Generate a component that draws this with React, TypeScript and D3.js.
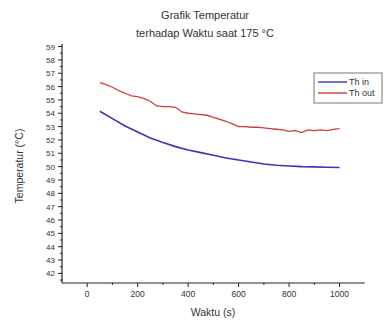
import React from "react";
import * as d3 from "d3";

const TITLE_LINES = ["Grafik Temperatur", "terhadap Waktu saat 175 °C"];
const X_LABEL = "Waktu (s)";
const Y_LABEL = "Temperatur (°C)";

const timeIn = [50, 100, 150, 200, 250, 300, 350, 400, 450, 500, 550, 600, 650, 700, 750, 800, 850, 900, 950, 1000];
const thIn = [54.15, 53.6, 53.05, 52.6, 52.15, 51.8, 51.5, 51.25, 51.05, 50.85, 50.65, 50.5, 50.35, 50.2, 50.1, 50.05, 50.0, 49.98, 49.95, 49.93];

const timeOut = [50, 75, 100, 125, 150, 175, 200, 225, 250, 275, 300, 325, 350, 375, 400, 425, 450, 475, 500, 525, 550, 575, 600, 625, 650, 675, 700, 725, 750, 775, 800, 825, 850, 875, 900, 925, 950, 975, 1000];
const thOut = [56.3, 56.15, 55.95, 55.7, 55.5, 55.3, 55.25, 55.1, 54.9, 54.55, 54.5, 54.5, 54.45, 54.1, 54.0, 53.95, 53.9, 53.85, 53.7, 53.55, 53.4, 53.2, 53.0, 53.0, 52.95, 52.95, 52.9, 52.85, 52.8, 52.75, 52.65, 52.7, 52.55, 52.75, 52.7, 52.75, 52.7, 52.8, 52.85];

const xMajorTicks = [0, 200, 400, 600, 800, 1000];
const xMinorTicks = [100, 300, 500, 700, 900];
const yMajorTicks = d3.range(42, 60);
const yMinorTicks = d3.range(41.5, 59.5, 1);

const seriesNames = ["Th in", "Th out"];
const colors = ["#3636b8", "#d23c3c"];

export default function App() {
  const W = 387, H = 324;
  const left = 62, right = 364.8, top = 44, bottom = 283;
  const x = d3.scaleLinear().domain([-100, 1100]).range([left, right]);
  const y = d3.scaleLinear().domain([41.28, 59.19]).range([bottom, top]);
  const line = d3.line<[number, number]>().x(d => x(d[0])).y(d => y(d[1]));
  const inPts = timeIn.map((t, i) => [t, thIn[i]] as [number, number]);
  const outPts = timeOut.map((t, i) => [t, thOut[i]] as [number, number]);
  const font = "'Liberation Sans', Arial, sans-serif";
  const textColor = "#333";
  const axisColor = "#222";

  return (
    <svg width={W} height={H} style={{ position: "absolute", left: 0, top: 0, background: "#fff" }} fontFamily={font}>
      <rect width={W} height={H} fill="#fff" />
      {TITLE_LINES.map((t, i) => (
        <text key={i} x={205} y={19 + i * 18} textAnchor="middle" fontSize={11} fill={textColor}>{t}</text>
      ))}
      {/* y axis */}
      <line x1={left} x2={left} y1={top} y2={bottom} stroke={axisColor} strokeWidth={1.2} />
      {yMajorTicks.map(v => (
        <g key={"ym" + v}>
          <line x1={left - 4} x2={left} y1={y(v)} y2={y(v)} stroke={axisColor} strokeWidth={1} />
          <text x={left - 7} y={y(v) + 3} textAnchor="end" fontSize={8} fill={textColor}>{v}</text>
        </g>
      ))}
      {yMinorTicks.map(v => (
        <line key={"yn" + v} x1={left - 2} x2={left} y1={y(v)} y2={y(v)} stroke={axisColor} strokeWidth={1} />
      ))}
      {/* x axis */}
      <line x1={left} x2={right} y1={bottom} y2={bottom} stroke={axisColor} strokeWidth={1.2} />
      {xMajorTicks.map(v => (
        <g key={"xm" + v}>
          <line x1={x(v)} x2={x(v)} y1={bottom} y2={bottom + 4} stroke={axisColor} strokeWidth={1} />
          <text x={x(v)} y={bottom + 14} textAnchor="middle" fontSize={8.5} fill={textColor}>{v}</text>
        </g>
      ))}
      {xMinorTicks.map(v => (
        <line key={"xn" + v} x1={x(v)} x2={x(v)} y1={bottom} y2={bottom + 2} stroke={axisColor} strokeWidth={1} />
      ))}
      <text x={213} y={316} textAnchor="middle" fontSize={10.5} fill={textColor}>{X_LABEL}</text>
      <text transform={`translate(23,166) rotate(-90)`} textAnchor="middle" fontSize={10.5} fill={textColor}>{Y_LABEL}</text>
      {/* lines */}
      <path d={line(inPts) || ""} fill="none" stroke={colors[0]} strokeWidth={1.6} />
      <path d={line(outPts) || ""} fill="none" stroke={colors[1]} strokeWidth={1.3} />
      {/* legend */}
      <rect x={314} y={73} width={68} height={30} fill="#fff" stroke="#555" strokeWidth={0.8} />
      {seriesNames.map((n, i) => (
        <g key={n}>
          <line x1={318} x2={347} y1={82 + i * 11} y2={82 + i * 11} stroke={colors[i]} strokeWidth={1.4} />
          <text x={349} y={85 + i * 11} fontSize={9} fill={textColor}>{n}</text>
        </g>
      ))}
    </svg>
  );
}
